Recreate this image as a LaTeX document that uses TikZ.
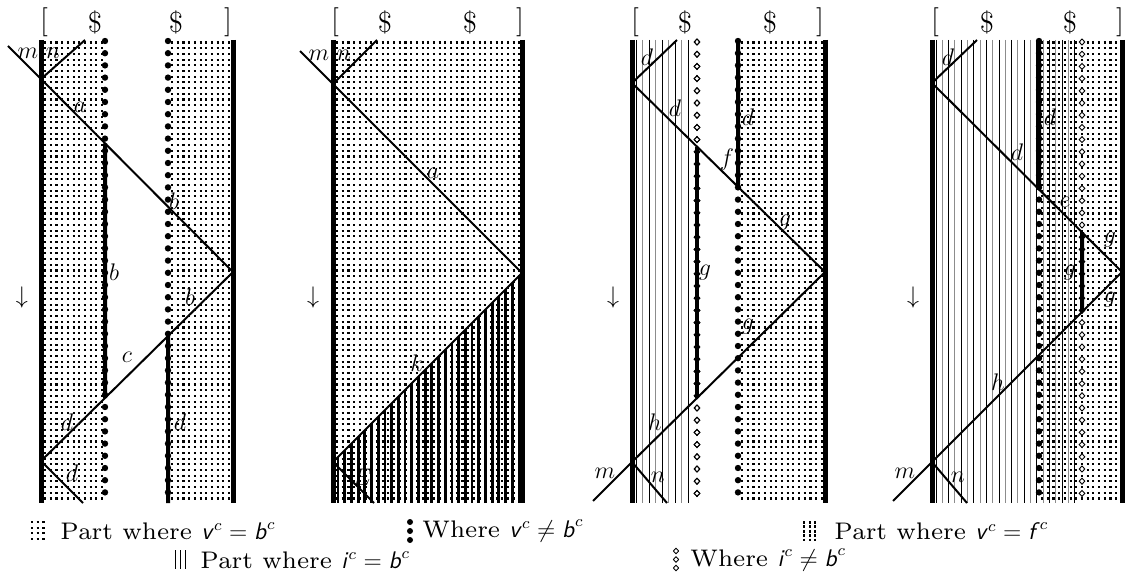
\documentclass[tikz,border=0pt]{standalone}
\usetikzlibrary{calc}
\font\legrm=cmr7 at 12pt
\tikzset{
  wall/.style={line width=2.5pt},
  colthick/.style={line width=2pt},
  ray/.style={line width=1pt},
  dotrow/.style={line width=1.05pt, dash pattern=on 1.05pt off 1.8pt},
  stripe/.style={line width=0.5pt},
  lbl/.style={font=\fontsize{12}{14}\selectfont, inner sep=0pt},
  toptxt/.style={font=\fontsize{14.5}{16}\selectfont, inner sep=0pt},
  legtext/.style={font=\fontsize{12}{14}\selectfont\legrm, inner sep=0pt, anchor=west},
}
\newcommand\dotrows[2]{\foreach \yy in {42.5,48.2,...,501} {\draw[dotrow] (#1,\yy) -- (#2,\yy);}}
\newcommand\bulletcol[1]{\foreach \yy in {41,53.2,...,503} {\fill (#1,\yy) circle[radius=1.6pt];}}
\newcommand\diamondcol[2]{\foreach \yy in {42,54.2,...,503} {\draw[line width=0.45pt,#2] (#1,\yy) +(0,-3) -- +(2.8,0) -- +(0,3) -- +(-2.8,0) -- cycle;}}
\newcommand\stripecols[3]{\foreach \xx [count=\i] in {#1,#2,...,#3} {\ifodd\i\relax \draw[stripe] (\xx,40)--(\xx,503);\else \draw[stripe,black!45] (\xx,40)--(\xx,503);\fi}}
\newcommand\svar[1]{\textsf{\textit{#1}}}
\begin{document}
\begin{tikzpicture}[x=0.5pt,y=-0.5pt]
\useasboundingbox (0,0) rectangle (1126,583);

% ================= Panel 1 =================
\node[toptxt] (p1o) at (44,22) {[};
\node[toptxt] (p1s1) at (95,22) {\$};
\node[toptxt] (p1s2) at (176,22) {\$};
\node[toptxt] (p1c) at (228,22) {]};
\dotrows{44}{103}
\dotrows{171}{231}
\coordinate (a1) at (41,79);
\coordinate (b1) at (233,272);
\coordinate (c1) at (41,461);
\bulletcol{105}
\bulletcol{168}
\draw[colthick] (intersection of a1--b1 and {105,0}--{105,600}) -- (intersection of b1--c1 and {105,0}--{105,600});
\draw[colthick] (intersection of b1--c1 and {168,0}--{168,600}) -- (168,503);
\draw[wall] (41,40) -- (41,503);
\draw[wall] (233,40) -- (233,503);
\draw[ray] (8,46) -- (a1) -- (b1) -- (c1) -- (83,503);
\draw[ray] (a1) -- (85,40);
\node[lbl] (p1m) at (28,53) {$m$};
\node[lbl] (p1n) at (53,53) {$n$};
\node[lbl] (p1a) at (80,107) {$a$};
\node[lbl] (p1b1) at (174,201) {$b$};
\node[lbl] (p1b2) at (114,272) {$b$};
\node[lbl] (p1b3) at (190,297) {$b$};
\node[lbl] (p1c) at (127,357) {$c$};
\node[lbl] (p1d1) at (67,422) {$d$};
\node[lbl] (p1d2) at (180,422) {$d$};
\node[lbl] (p1d3) at (72,473) {$d$};
\node[lbl] (p1arr) at (22,297) {$\downarrow$};

% ================= Panel 2 =================
\node[toptxt] (p2o) at (335,22) {[};
\node[toptxt] (p2s1) at (385,22) {\$};
\node[toptxt] (p2s2) at (470,22) {\$};
\node[toptxt] (p2c) at (520,22) {]};
\dotrows{336}{520}
\coordinate (a2) at (333,84);
\coordinate (b2) at (522,273);
\coordinate (c2) at (333,462);
\begin{scope}
  \clip (c2) -- (b2) -- (522,503) -- (333,503) -- cycle;
  \foreach \xx in {338,344.7,...,521} {\draw[line width=1.4pt] (\xx,260) -- (\xx,503);}
\end{scope}
\draw[wall] (333,40) -- (333,503);
\draw[wall] (522,40) -- (522,503);
\draw[ray] (300,51) -- (a2) -- (b2) -- (c2) -- (374,503);
\draw[ray] (a2) -- (377,40);
\node[lbl] (p2m) at (319,55) {$m$};
\node[lbl] (p2n) at (344,55) {$n$};
\node[lbl] (p2a) at (433,173) {$a$};
\node[lbl] (p2k) at (417,363) {$k$};
\node[lbl] (p2e) at (362,477) {$E$};
\node[lbl] (p2arr) at (313,297) {$\downarrow$};

% ================= Panel 3 =================
\node[toptxt] (p3o) at (635,22) {[};
\node[toptxt] (p3s1) at (685,22) {\$};
\node[toptxt] (p3s2) at (770,22) {\$};
\node[toptxt] (p3c) at (820,22) {]};
\stripecols{636}{642.5}{694}
\dotrows{741}{823}
\coordinate (a3) at (632,83);
\coordinate (b3) at (825,272);
\coordinate (c3) at (632,462);
\diamondcol{697}{fill=white}
\draw[colthick] (intersection of a3--b3 and {697,0}--{697,600}) -- (intersection of b3--c3 and {697,0}--{697,600});
\diamondcol{697}{}
\bulletcol{738}
\draw[colthick] (738,40) -- (intersection of a3--b3 and {738,0}--{738,600});
\draw[wall] (632,40) -- (632,503);
\draw[wall] (825,40) -- (825,503);
\draw[ray] (677,40) -- (a3) -- (b3) -- (c3) -- (593,501);
\draw[ray] (c3) -- (667,503);
\node[lbl] (p3d1) at (647,57) {$d$};
\node[lbl] (p3d2) at (675,108) {$d$};
\node[lbl] (p3d3) at (748,117) {$d$};
\node[lbl] (p3f) at (727,160) {$f$};
\node[lbl] (p3g1) at (785,223) {$g$};
\node[lbl] (p3g2) at (705,273) {$g$};
\node[lbl] (p3g3) at (748,327) {$g$};
\node[lbl] (p3h) at (655,422) {$h$};
\node[lbl] (p3m) at (605,473) {$m$};
\node[lbl] (p3n) at (658,477) {$n$};
\node[lbl] (p3arr) at (613,297) {$\downarrow$};

% ================= Panel 4 =================
\node[toptxt] (p4o) at (935,22) {[};
\node[toptxt] (p4s1) at (987,22) {\$};
\node[toptxt] (p4s2) at (1070,22) {\$};
\node[toptxt] (p4c) at (1120,22) {]};
\stripecols{936}{942.3}{1080}
\dotrows{1041}{1120}
\coordinate (a4) at (932,83);
\coordinate (b4) at (1122,272);
\coordinate (c4) at (932,462);
\diamondcol{1082}{fill=white}
\draw[colthick] (intersection of a4--b4 and {1082,0}--{1082,600}) -- (intersection of b4--c4 and {1082,0}--{1082,600});
\bulletcol{1039}
\draw[colthick] (1039,40) -- (intersection of a4--b4 and {1039,0}--{1039,600});
\draw[wall] (932,40) -- (932,503);
\draw[wall] (1122,40) -- (1122,503);
\draw[ray] (977,40) -- (a4) -- (b4) -- (c4) -- (893,501);
\draw[ray] (c4) -- (967,503);
\node[lbl] (p4d1) at (948,57) {$d$};
\node[lbl] (p4d2) at (1050,117) {$d$};
\node[lbl] (p4d3) at (1017,152) {$d$};
\node[lbl] (p4e) at (1065,202) {$e$};
\node[lbl] (p4g1) at (1110,240) {$g$};
\node[lbl] (p4g2) at (1070,273) {$g$};
\node[lbl] (p4g3) at (1110,300) {$g$};
\node[lbl] (p4h) at (998,382) {$h$};
\node[lbl] (p4m) at (905,473) {$m$};
\node[lbl] (p4n) at (958,477) {$n$};
\node[lbl] (p4arr) at (913,298) {$\downarrow$};

% ================= Legend =================
% icon 1: dots
\foreach \yy in {522,527.7,533.4,539.1} {\draw[dotrow] (31,\yy) -- (45,\yy);}
\node[legtext] (leg1) at (60,531) {Part where $\svar{v}^c = \svar{b}^c$};
% icon 2: bullets
\foreach \yy in {522,531,540} {\fill (410,\yy) circle[radius=1.5pt];}
\node[legtext] (leg2) at (422,531) {Where $\svar{v}^c \neq \svar{b}^c$};
% icon 3: stripes + dots
\foreach \xx in {804,809.5,815} {\draw[line width=1pt, dash pattern=on 1.4pt off 0.8pt] (\xx,521) -- (\xx,541);}
\node[legtext] (leg3) at (834,531) {Part where $\svar{v}^c = \svar{f}^c$};
% icon 4: thin stripes
\foreach \xx in {175,180,185} {\draw[stripe] (\xx,550) -- (\xx,569);}
\node[legtext] (leg4) at (200,560) {Part where $\svar{i}^c = \svar{b}^c$};
% icon 5: diamonds
\foreach \yy in {551,559.5,568} {\draw[line width=0.45pt] (676,\yy) +(0,-2.8) -- +(2.6,0) -- +(0,2.8) -- +(-2.6,0) -- cycle;}
\node[legtext] (leg5) at (690,560) {Where $\svar{i}^c \neq \svar{b}^c$};
\end{tikzpicture}
\end{document}
